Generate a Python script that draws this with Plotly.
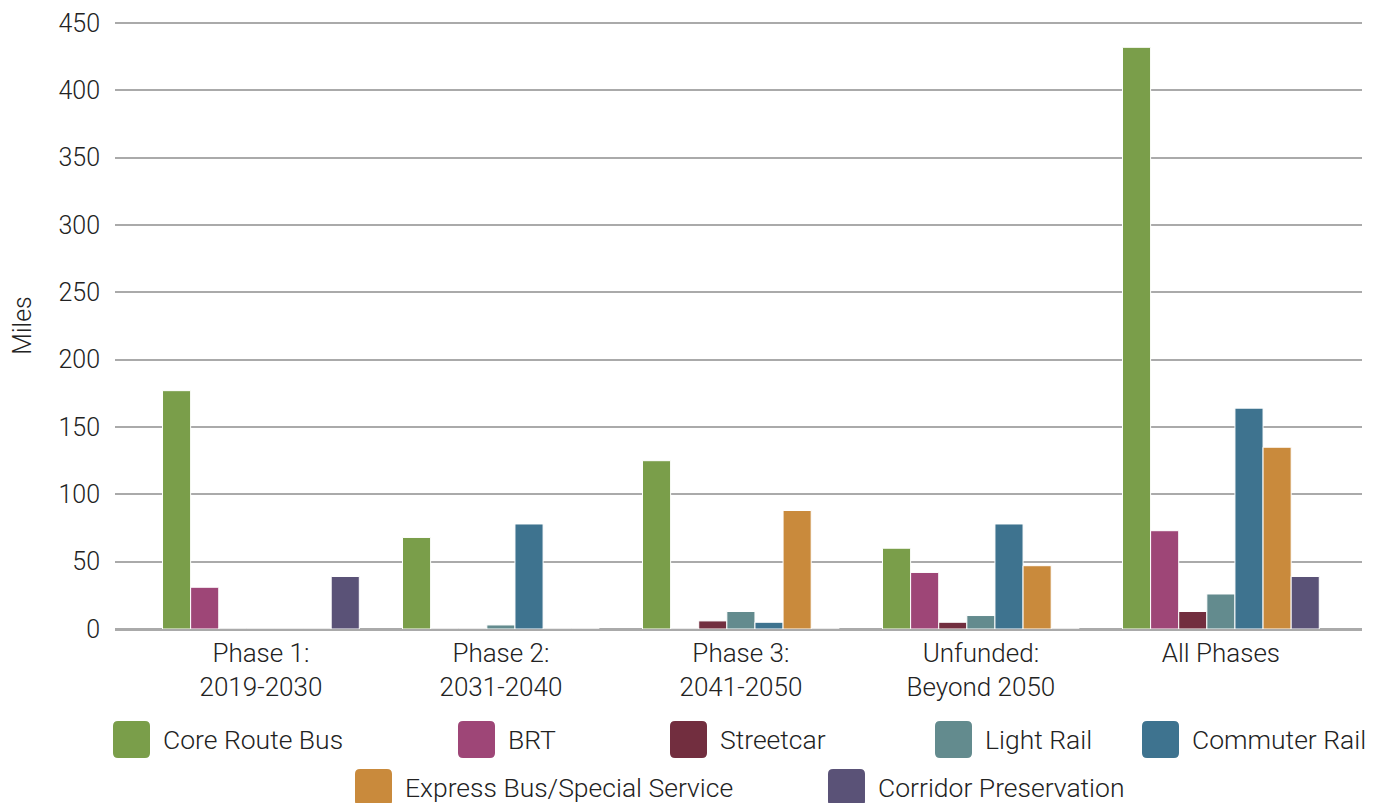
import plotly.graph_objects as go

categories = ["Phase 1:<br>2019-2030", "Phase 2:<br>2031-2040", "Phase 3:<br>2041-2050",
              "Unfunded:<br>Beyond 2050", "All Phases"]

core_route_bus = [177, 68, 125, 60, 432]
brt = [31, 0, 0, 42, 73]
streetcar = [0, 0, 6, 5, 13]
light_rail = [0, 3, 13, 10, 26]
commuter_rail = [0, 78, 5, 78, 164]
express_bus = [0, 0, 88, 47, 135]
corridor_preservation = [39, 0, 0, 0, 39]

series_names = ["Core Route Bus", "BRT", "Streetcar", "Light Rail", "Commuter Rail",
                "Express Bus/Special Service", "Corridor Preservation"]
series_values = [core_route_bus, brt, streetcar, light_rail, commuter_rail,
                 express_bus, corridor_preservation]
series_colors = ["#7a9e4a", "#9e4677", "#722e3f", "#638b8e", "#3e738f",
                 "#c98a3c", "#5a5277"]

y_ticks = [0, 50, 100, 150, 200, 250, 300, 350, 400, 450]

OFF = 8  # page body margin
W, H = 1379 - OFF, 803 - OFF
ML, MT = 115 - OFF, 22 - OFF
PLOT_R, PLOT_B = 1362 - OFF, 629 - OFF
MR, MB = W - PLOT_R, H - PLOT_B
PW, PH = W - ML - MR, H - MT - MB

FONT = "Roboto"
TEXT = "#222222"

fig = go.Figure()
for name, vals, col in zip(series_names, series_values, series_colors):
    fig.add_trace(go.Bar(
        name=name, x=list(range(len(categories))), y=vals,
        marker=dict(color=col, line=dict(color="white", width=1)),
        showlegend=False,
    ))


def pp(x, y):
    # page pixel -> paper coords
    x -= OFF
    y -= OFF
    return (x - ML) / PW, (MT + PH - y) / PH


def rrect(x0, y0, x1, y1, r=5):
    def P(x, y):
        a, b = pp(x, y)
        return f"{a:.5f},{b:.5f}"
    return (f"M {P(x0 + r, y0)} L {P(x1 - r, y0)} Q {P(x1, y0)} {P(x1, y0 + r)} "
            f"L {P(x1, y1 - r)} Q {P(x1, y1)} {P(x1 - r, y1)} "
            f"L {P(x0 + r, y1)} Q {P(x0, y1)} {P(x0, y1 - r)} "
            f"L {P(x0, y0 + r)} Q {P(x0, y0)} {P(x0 + r, y0)} Z")


# legend layout (page pixel positions of swatches)
legend_pos = [(113, 721), (458, 721), (670, 721), (935, 721), (1142, 721),
              (355, 769), (828, 769)]
shapes = []
annotations = []
for (sx, sy), name, col in zip(legend_pos, series_names, series_colors):
    shapes.append(dict(type="path", xref="paper", yref="paper",
                       path=rrect(sx, sy, sx + 37, sy + 37),
                       fillcolor=col, line=dict(width=0)))
    tx, ty = pp(sx + 48, sy + 18)
    annotations.append(dict(xref="paper", yref="paper", x=tx, y=ty,
                            xanchor="left", yanchor="middle", showarrow=False,
                            text=name, font=dict(family=FONT, size=26.5, color=TEXT, weight=300)))

fig.update_layout(
    width=W, height=H,
    margin=dict(l=ML, r=MR, t=MT, b=MB, pad=0),
    plot_bgcolor="white", paper_bgcolor="white",
    barmode="group", bargap=0.18, bargroupgap=0,
    font=dict(family=FONT, size=24, color=TEXT, weight=300),
    shapes=shapes, annotations=annotations,
    xaxis=dict(
        tickmode="array", tickvals=list(range(len(categories))), ticktext=categories,
        range=[-0.608, 4.588], showgrid=False, zeroline=False,
        showline=True, linecolor="#aaaaaa", linewidth=2,
        ticks="", tickfont=dict(family=FONT, size=26, color=TEXT, weight=300),
        ticklabelstandoff=0, automargin=False,
    ),
    yaxis=dict(
        range=[0, 450.8], tickmode="array", tickvals=y_ticks,
        showgrid=True, gridcolor="#aaaaaa", gridwidth=1.5,
        zeroline=True, zerolinecolor="#aaaaaa", zerolinewidth=2,
        ticks="", ticklabelstandoff=14, automargin=False,
        tickfont=dict(family=FONT, size=25, color=TEXT, weight=300),
        title=dict(text="Miles", standoff=22,
                   font=dict(family=FONT, size=25, color=TEXT, weight=300)),
    ),
)

fig.write_html("out.html")
